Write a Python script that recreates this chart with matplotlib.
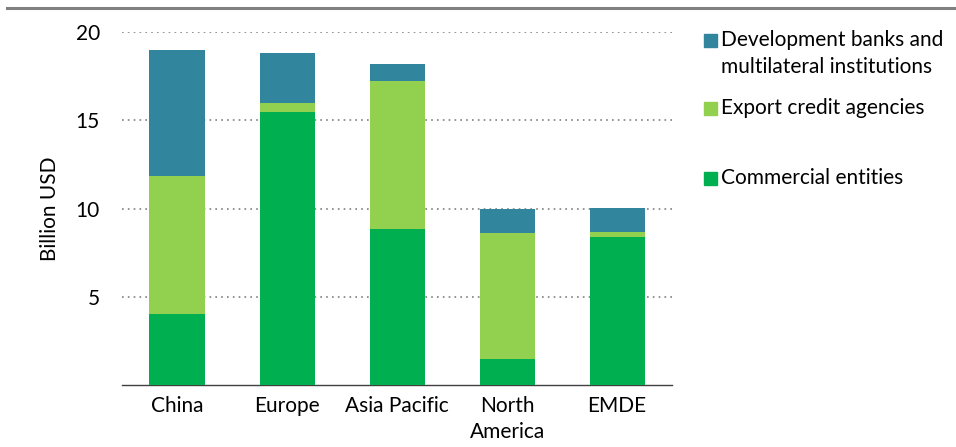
import matplotlib
matplotlib.use("Agg")
import matplotlib.pyplot as plt
from matplotlib.patches import Rectangle
from matplotlib.lines import Line2D
import numpy as np

plt.rcParams['font.family'] = ['Lato', 'DejaVu Sans']

categories = ["China", "Europe", "Asia Pacific", "North\nAmerica", "EMDE"]
commercial = [4.0, 15.45, 8.85, 1.5, 8.4]
export_credit = [7.85, 0.55, 8.35, 7.1, 0.25]
dev_banks = [7.15, 2.8, 1.0, 1.4, 1.4]
series_labels = ["Development banks and\nmultilateral institutions", "Export credit agencies", "Commercial entities"]
colors = {"dev": "#31859C", "exp": "#92D050", "com": "#00B050"}
yticks = [5, 10, 15, 20]

FS = 15

fig = plt.figure(figsize=(9.56, 4.47), dpi=100)
ax = fig.add_axes([0.1276, 0.1387, 0.5755, 0.7897])

x = np.arange(len(categories))
com = np.array(commercial)
exp = np.array(export_credit)
dev = np.array(dev_banks)
ax.bar(x, com, width=0.5, color=colors["com"], zorder=3)
ax.bar(x, exp, width=0.5, bottom=com, color=colors["exp"], zorder=3)
ax.bar(x, dev, width=0.5, bottom=com + exp, color=colors["dev"], zorder=3)

ax.set_xlim(-0.5, 4.5)
ax.set_ylim(0, 20)
ax.set_yticks(yticks)
ax.set_yticklabels([str(v) for v in yticks], fontsize=FS)
ax.set_xticks(x)
ax.set_xticklabels(categories, fontsize=FS, linespacing=1.35)
ax.tick_params(axis='x', length=0, pad=8)
ax.tick_params(axis='y', length=0, pad=16)
ax.yaxis.grid(True, linestyle=(0, (1, 2.5)), color="#808080", linewidth=1.2, zorder=0)
for s in ["left", "right", "top"]:
    ax.spines[s].set_visible(False)
ax.spines["bottom"].set_color("#404040")
ax.spines["bottom"].set_linewidth(1.0)
ax.set_ylabel("Billion USD", fontsize=FS, labelpad=11)

# top rule
fig.add_artist(Line2D([7/956, 1.0], [1 - 8/447, 1 - 8/447], color="#808080", linewidth=2.2))

# legend (manual)
leg_colors = [colors["dev"], colors["exp"], colors["com"]]
leg_y = [40, 108, 178]
for lab, c, yy in zip(series_labels, leg_colors, leg_y):
    fig.add_artist(Rectangle((704/956, 1 - (yy + 7)/447), 13/956, 13/447,
                             transform=fig.transFigure, color=c))
    for i, line in enumerate(lab.split("\n")):
        fig.text(721/956, 1 - (yy + 27 * i)/447, line, fontsize=FS, va="center", ha="left")

fig.savefig("out.png", dpi=100)
